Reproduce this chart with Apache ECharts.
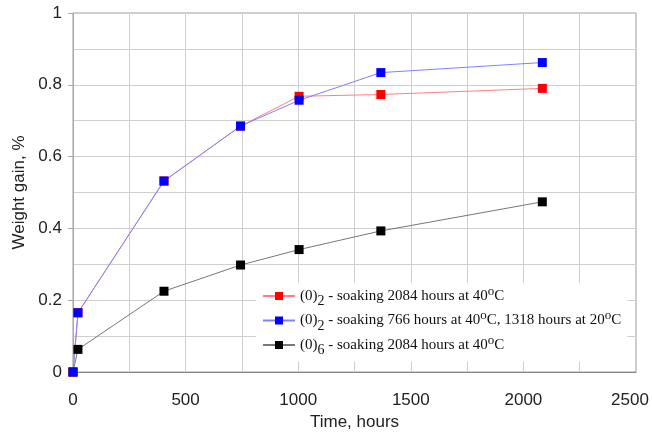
<!DOCTYPE html>
<html><head><meta charset="utf-8">
<script src="https://cdn.jsdelivr.net/npm/echarts@6/dist/echarts.min.js"></script>
<style>html,body{margin:0;padding:0;background:#fff}#c{width:652px;height:433px}</style>
</head><body><div id="c"></div>
<script>
const hours = [0, 22, 404, 744, 1004, 1367, 2084];
const red = [0, 0.165, 0.532, 0.685, 0.768, 0.773, 0.790];
const blue = [0, 0.165, 0.532, 0.685, 0.757, 0.834, 0.862];
const black = [0, 0.063, 0.225, 0.298, 0.341, 0.393, 0.474];
const xTicks = [0, 500, 1000, 1500, 2000, 2500];
const yTicks = [0, 0.2, 0.4, 0.6, 0.8, 1];
const names = ['red', 'blue', 'black'];
const labels = {
  red: '(0){sub|2} - soaking 2084 hours at 40{sup|o}C',
  blue: '(0){sub|2} - soaking 766 hours at 40{sup|o}C, 1318 hours at 20{sup|o}C',
  black: '(0){sub|6} - soaking 2084 hours at 40{sup|o}C'
};
const pairs = v => hours.map((h, i) => [h, v[i]]);
const chart = echarts.init(document.getElementById('c'));
const mk = (name, vals, mc, lc) => ({
  name, type: 'line', data: pairs(vals), symbol: 'rect', symbolSize: 9,
  itemStyle: {color: mc}, lineStyle: {color: lc, width: 1}, animation: false
});
const lastX = xTicks[xTicks.length - 1];
chart.setOption({
  animation: false,
  grid: {left: 73, right: 16, top: 13, bottom: 61, show: true, borderColor: '#9a9a9a', borderWidth: 1,
    containLabel: false, outerBoundsMode: 'none'},
  xAxis: {
    type: 'value', min: 0, max: 2500, interval: 500,
    axisLine: {show: true, lineStyle: {color: '#888'}},
    axisTick: {show: false},
    axisLabel: {color: '#222', fontFamily: 'Liberation Sans', fontSize: 17, margin: 20,
      formatter: v => v === lastX ? '{last|' + v + '}' : (xTicks.includes(v) ? String(v) : ''),
      rich: {last: {color: '#222', fontFamily: 'Liberation Sans', fontSize: 17, padding: [0, 12, 0, 0]}}},
    splitLine: {show: true, lineStyle: {color: '#cfcfcf'}},
    minorTick: {show: false, splitNumber: 2},
    minorSplitLine: {show: true, lineStyle: {color: '#cfcfcf'}},
    name: 'Time, hours', nameLocation: 'middle', nameGap: 41,
    nameTextStyle: {color: '#222', fontFamily: 'Liberation Sans', fontSize: 17}
  },
  yAxis: {
    type: 'value', min: 0, max: 1, interval: 0.2,
    axisLine: {show: true, lineStyle: {color: '#aaa'}},
    axisTick: {show: true, inside: false, length: 5, lineStyle: {color: '#aaa'}},
    axisLabel: {color: '#222', fontFamily: 'Liberation Sans', fontSize: 17, margin: 11,
      formatter: v => { const t = yTicks.find(k => Math.abs(k - v) < 1e-9); return t === undefined ? '' : String(t); }},
    splitLine: {show: true, lineStyle: {color: '#cfcfcf'}},
    minorTick: {show: false, splitNumber: 2},
    minorSplitLine: {show: true, lineStyle: {color: '#cfcfcf'}},
    name: 'Weight gain, %', nameLocation: 'middle', nameGap: 37,
    nameTextStyle: {color: '#222', fontFamily: 'Liberation Sans', fontSize: 17}
  },
  legend: {
    data: names, orient: 'vertical', left: 256, top: 283, itemGap: 1,
    itemWidth: 32, itemHeight: 10, backgroundColor: '#fff', padding: [2, 6, 4, 6],
    formatter: n => labels[n],
    textStyle: {fontFamily: 'Liberation Serif', fontSize: 15, color: '#111',
      rich: {
        sub: {fontFamily: 'Liberation Serif', fontSize: 14, color: '#111', padding: [11, 0, 0, 0]},
        sup: {fontFamily: 'Liberation Serif', fontSize: 13, color: '#111', padding: [0, 0, 9, 0]}
      }}
  },
  series: [
    mk('black', black, '#000000', '#777777'),
    mk('red', red, '#ff0000', '#ff8080'),
    mk('blue', blue, '#0000ff', '#8080ff')
  ]
});
</script></body></html>
